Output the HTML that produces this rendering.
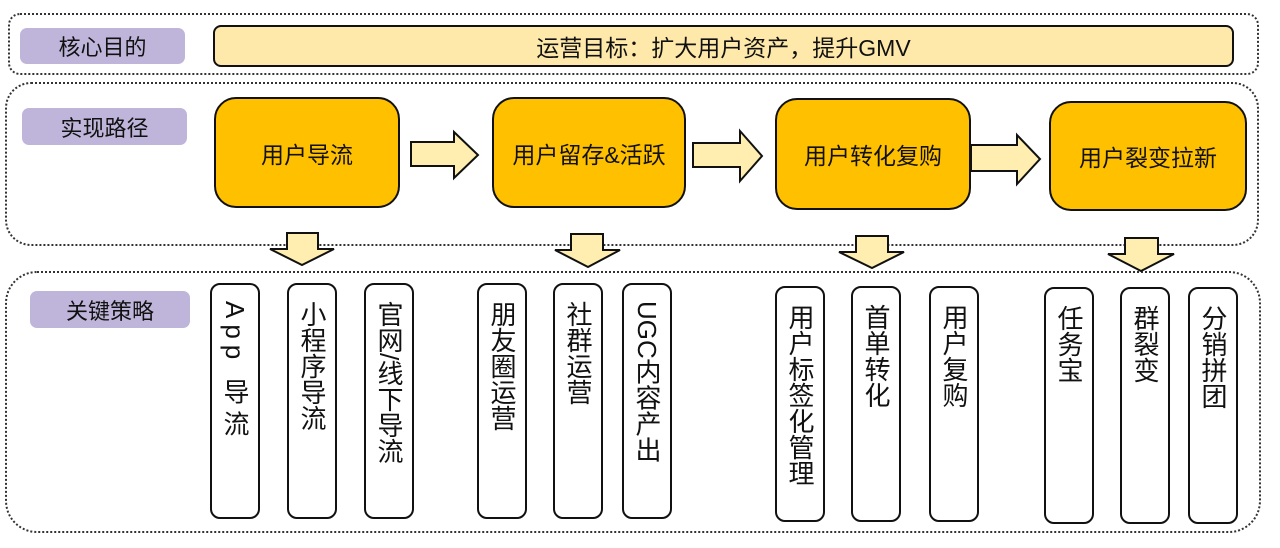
<!DOCTYPE html>
<html><head><meta charset="utf-8"><style>
body{margin:0;width:1280px;height:548px;background:#fff;position:relative;overflow:hidden;font-family:"Liberation Sans","Noto Sans CJK SC",sans-serif;color:#111}
.a{position:absolute;box-sizing:border-box}
.dot{border:2.5px dotted #333;border-radius:22px}
.lab{background:#bfb5da;border-radius:7px;font-size:22px;display:flex;align-items:center;justify-content:center}
.or{background:#ffc000;border:2px solid #111;border-radius:22px;font-size:23px;display:flex;align-items:center;justify-content:center}
.v{border:2px solid #111;border-radius:10px;top:283px;height:236px;width:50px;font-size:26px;writing-mode:vertical-rl;text-orientation:mixed;padding-top:16px;line-height:46px;letter-spacing:0}
.v2{top:286px;height:236px}
.v3{top:287px;height:237px}
</style></head><body>
<div class="a dot" style="left:8px;top:13px;width:1251px;height:62px;border-radius:12px"></div>
<div class="a dot" style="left:5px;top:82px;width:1254px;height:164px;border-radius:26px"></div>
<div class="a dot" style="left:5px;top:271px;width:1256px;height:262px;border-radius:32px"></div>

<div class="a lab" style="left:20px;top:28px;width:165px;height:36px">核心目的</div>
<div class="a" style="left:213px;top:25px;width:1021px;height:42px;background:#ffe9aa;border:2px solid #111;border-radius:8px;font-size:23px;display:flex;align-items:center;justify-content:center">运营目标：扩大用户资产，提升GMV</div>

<div class="a lab" style="left:22px;top:108px;width:165px;height:37px">实现路径</div>
<div class="a or" style="left:214px;top:97px;width:186px;height:111px">用户导流</div>
<div class="a or" style="left:492px;top:97px;width:194px;height:111px">用户留存&amp;活跃</div>
<div class="a or" style="left:775px;top:98px;width:196px;height:112px">用户转化复购</div>
<div class="a or" style="left:1049px;top:101px;width:198px;height:110px">用户裂变拉新</div>

<div class="a lab" style="left:30px;top:291px;width:160px;height:37px">关键策略</div>

<div class="a v" style="left:210px;letter-spacing:6px">App 导流</div>
<div class="a v" style="left:287px">小程序导流</div>
<div class="a v" style="left:364px">官网/线下导流</div>
<div class="a v" style="left:477px">朋友圈运营</div>
<div class="a v" style="left:553px">社群运营</div>
<div class="a v" style="left:622px">UGC内容产出</div>
<div class="a v v2" style="left:775px">用户标签化管理</div>
<div class="a v v2" style="left:851px">首单转化</div>
<div class="a v v2" style="left:929px">用户复购</div>
<div class="a v v3" style="left:1044px">任务宝</div>
<div class="a v v3" style="left:1120px">群裂变</div>
<div class="a v v3" style="left:1188px">分销拼团</div>

<svg class="a" style="left:0;top:0" width="1280" height="548">
<g fill="#ffeeb0" stroke="#111" stroke-width="2" stroke-linejoin="miter">
<polygon points="411,142 454,142 454,132 478,155 454,178 454,166 411,166"/>
<polygon points="693,143 740,143 740,131 762,156 740,181 740,167 693,167"/>
<polygon points="971,145 1017,145 1017,135 1040,159 1017,184 1017,171 971,171"/>
<polygon points="287,233 318,233 318,249 334,249 302,265 270,249 287,249"/>
<polygon points="571,234 603,234 603,250 620,250 588,267 555,250 571,250"/>
<polygon points="856,236 888,236 888,252 904,252 872,268 839,252 856,252"/>
<polygon points="1125,238 1158,238 1158,254 1174,254 1141,271 1108,254 1125,254"/>
</g>
</svg>
</body></html>
